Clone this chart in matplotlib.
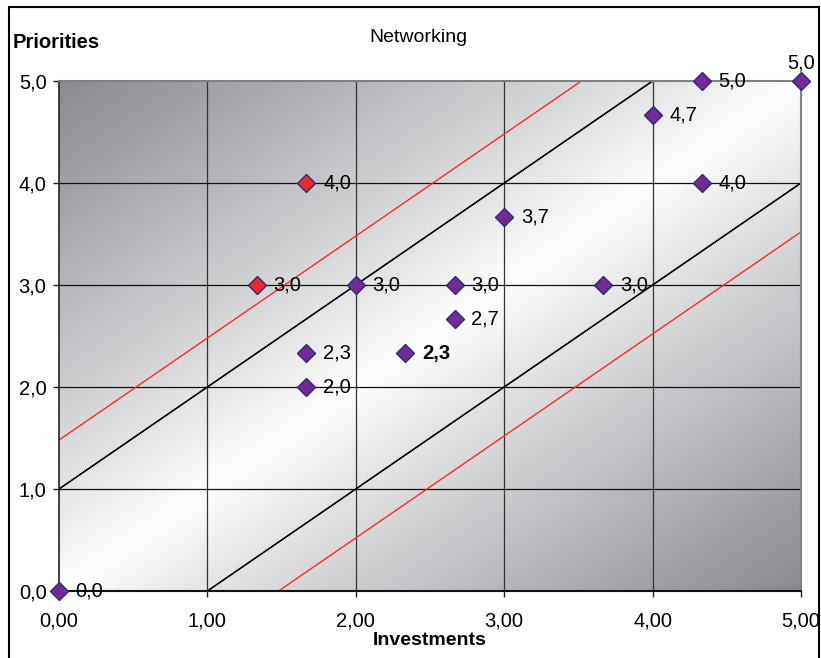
import numpy as np
import matplotlib
matplotlib.use("Agg")
import matplotlib.pyplot as plt
from matplotlib.patches import Rectangle

plt.rcParams['font.family'] = ['Liberation Sans', 'DejaVu Sans']

# Data
investments = [0.0, 1.667, 1.333, 2.0, 2.667, 3.667, 1.667, 1.667, 2.333, 2.667, 3.0, 4.0, 4.333, 5.0, 4.333]
priorities  = [0.0, 4.0,   3.0,   3.0, 3.0,   3.0,   2.333, 2.0,   2.333, 2.667, 3.667, 4.667, 5.0, 5.0, 4.0]
point_colors = ['purple', 'red', 'red', 'purple', 'purple', 'purple', 'purple', 'purple',
                'purple', 'purple', 'purple', 'purple', 'purple', 'purple', 'purple']
bold_label = [False]*8 + [True] + [False]*6
label_above = [False]*13 + [True] + [False]

black_offsets = [1.0, -1.0]
red_offsets = [1.48, -1.48]

xticks = [0, 1, 2, 3, 4, 5]
xtick_labels = ['0,00', '1,00', '2,00', '3,00', '4,00', '5,00']
yticks = [0, 1, 2, 3, 4, 5]
ytick_labels = ['0,0', '1,0', '2,0', '3,0', '4,0', '5,0']

fig = plt.figure(figsize=(8.21, 6.58), dpi=100)
ax = fig.add_axes([59/821, 1-591/658, (801-59)/821, (591-81)/658])

# gradient background
n = 300
u, v = np.meshgrid(np.linspace(0, 1, n), np.linspace(0, 1, n))
d = np.abs(u - v) ** 0.9
white = np.array([1.0, 1.0, 1.0])
gray = np.array([0.54, 0.545, 0.57])
img = white[None, None, :] * (1 - d[..., None]) + gray[None, None, :] * d[..., None]
ax.imshow(img, extent=[0, 5, 0, 5], origin='lower', aspect='auto', zorder=0)

ax.set_xlim(0, 5)
ax.set_ylim(0, 5)

# grid
for gx in [1, 2, 3, 4]:
    ax.axvline(gx, color='#333333', lw=0.9, zorder=1)
for gy in [1, 2, 3, 4]:
    ax.axhline(gy, color='#111111', lw=0.9, zorder=1)

# diagonal lines
xs = np.linspace(0, 5, 200)
for off in black_offsets:
    y = xs + off
    m = (y >= 0) & (y <= 5)
    ax.plot(xs[m], y[m], color='black', lw=1.2, zorder=2)
for off in red_offsets:
    y = xs + off
    m = (y >= 0) & (y <= 5)
    ax.plot(xs[m], y[m], color='#ff2a1f', lw=1.0, zorder=2)

cmap = {'purple': '#722b94', 'red': '#f0282a'}
for xi, yi, c, b, above in zip(investments, priorities, point_colors, bold_label, label_above):
    ax.plot(xi, yi, marker='D', ms=9.5, mfc=cmap[c], mec='#2b2b78', mew=1.0,
            zorder=5, clip_on=False)
    lab = f"{yi:.1f}".replace('.', ',')
    if above:
        ax.annotate(lab, (xi, yi), xytext=(0, 6), textcoords='offset points',
                    ha='center', va='bottom', fontsize=14.5, zorder=6, annotation_clip=False)
    else:
        ax.annotate(lab, (xi, yi), xytext=(12, 0), textcoords='offset points',
                    ha='left', va='center', fontsize=14.5,
                    fontweight='bold' if b else 'normal', zorder=6, annotation_clip=False)

ax.set_xticks(xticks)
ax.set_xticklabels(xtick_labels, fontsize=14.5)
ax.set_yticks(yticks)
ax.set_yticklabels(ytick_labels, fontsize=14.5)
ax.tick_params(axis='x', direction='out', length=4, width=1, color='#222222', pad=11)
ax.tick_params(axis='y', direction='out', length=4, width=1, color='#222222', pad=5)

for side in ['top', 'right']:
    ax.spines[side].set_color('#808080')
    ax.spines[side].set_linewidth(1.5)
ax.spines['left'].set_color('#222222')
ax.spines['left'].set_linewidth(1.2)
ax.spines['bottom'].set_color('#111111')
ax.spines['bottom'].set_linewidth(1.5)

ax.set_xlabel('Investments', fontsize=14, fontweight='bold', labelpad=1)
fig.text(13/821, 1-43/658, 'Priorities', fontsize=14.5, fontweight='bold', ha='left', va='center')
fig.text(418/821, 1-37/658, 'Networking', fontsize=14, ha='center', va='center')

# outer frame
fig.patches.append(Rectangle((9/821, -0.01), (819-9)/821, (1-7/658) + 0.01,
                             transform=fig.transFigure, fill=False,
                             edgecolor='black', lw=1.5))

fig.savefig('out.png', dpi=100)
